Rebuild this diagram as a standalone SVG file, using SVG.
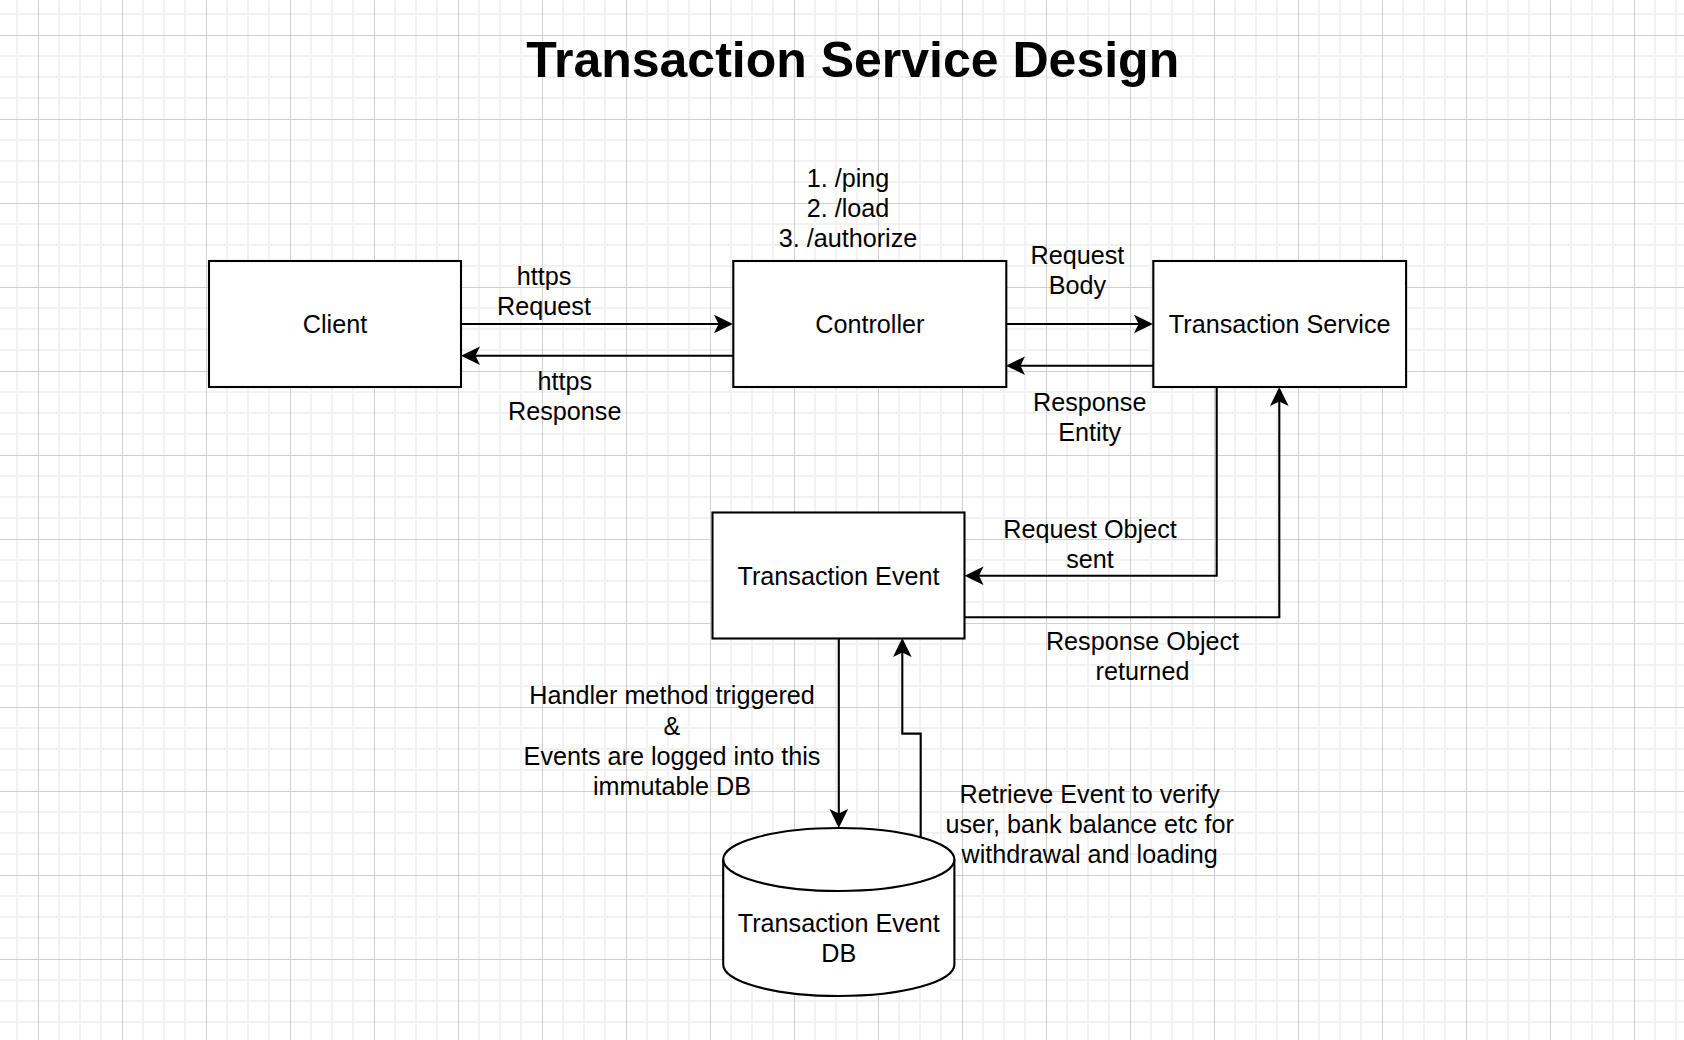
<svg xmlns="http://www.w3.org/2000/svg" width="1684" height="1040" viewBox="0 0 1684 1040">
<style>
.box{fill:#fff;stroke:#000;stroke-width:2.1}
.lbl{font-family:"Liberation Sans",Arial,Helvetica,sans-serif;font-size:25.2px;fill:#000;text-anchor:middle}
.edge{fill:none;stroke:#000;stroke-width:2.1}
.title{font-family:"Liberation Sans",Arial,Helvetica,sans-serif;font-size:50px;font-weight:bold;fill:#000;text-anchor:middle}
</style>
<defs>
<pattern id="grid" patternUnits="userSpaceOnUse" x="38" y="35" width="84" height="84">
<rect x="20" y="0" width="2" height="84" fill="#f2f2f2"/>
<rect x="41" y="0" width="2" height="84" fill="#f2f2f2"/>
<rect x="62" y="0" width="2" height="84" fill="#f2f2f2"/>
<rect x="0" y="20" width="84" height="2" fill="#f2f2f2"/>
<rect x="0" y="41" width="84" height="2" fill="#f2f2f2"/>
<rect x="0" y="62" width="84" height="2" fill="#f2f2f2"/>
<rect x="0" y="0" width="1" height="84" fill="#d0d0d0"/>
<rect x="0" y="0" width="84" height="1" fill="#d0d0d0"/>
</pattern>
<marker id="arr" markerUnits="userSpaceOnUse" viewBox="0 0 19 19" markerWidth="19" markerHeight="19" refX="14" refY="9.5" orient="auto">
<path d="M0,0.2 L19,9.5 L0,18.8 L4.5,9.5 Z" fill="#000"/>
</marker>
</defs>
<rect width="1684" height="1040" fill="#fff"/>
<rect width="1684" height="1040" fill="url(#grid)"/>
<text class="title" x="852.7" y="76.5">Transaction Service Design</text>

<g id="edges">
<g id="e-client-controller">
<path class="edge" d="M461,324 L728,324" marker-end="url(#arr)"/>
<text class="lbl" x="544" y="285">https</text>
<text class="lbl" x="544" y="315">Request</text>
</g>
<g id="e-controller-client">
<path class="edge" d="M733,355.7 L466,355.7" marker-end="url(#arr)"/>
<text class="lbl" x="564.7" y="389.5">https</text>
<text class="lbl" x="564.7" y="419.5">Response</text>
</g>
<g id="e-controller-ts">
<path class="edge" d="M1006,324 L1148,324" marker-end="url(#arr)"/>
<text class="lbl" x="1077.4" y="264">Request</text>
<text class="lbl" x="1077.4" y="294">Body</text>
</g>
<g id="e-ts-controller">
<path class="edge" d="M1153,365.7 L1011,365.7" marker-end="url(#arr)"/>
<text class="lbl" x="1089.7" y="410.5">Response</text>
<text class="lbl" x="1089.7" y="440.5">Entity</text>
</g>
<g id="e-ts-te">
<path class="edge" d="M1216.7,387 L1216.7,575.7 L969.5,575.7" marker-end="url(#arr)"/>
<text class="lbl" x="1090" y="537.5">Request Object</text>
<text class="lbl" x="1090" y="567.5">sent</text>
</g>
<g id="e-te-ts">
<path class="edge" d="M964.5,617.3 L1279.3,617.3 L1279.3,392" marker-end="url(#arr)"/>
<text class="lbl" x="1142.5" y="650">Response Object</text>
<text class="lbl" x="1142.5" y="680">returned</text>
</g>
<g id="e-te-db">
<path class="edge" d="M838.8,638 L838.8,823" marker-end="url(#arr)"/>
<text class="lbl" x="672" y="704">Handler method triggered</text>
<text class="lbl" x="672" y="734.5">&amp;</text>
<text class="lbl" x="672" y="764.5">Events are logged into this</text>
<text class="lbl" x="672" y="795">immutable DB</text>
</g>
<g id="e-db-te">
<path class="edge" d="M920.7,837.3 L920.7,733.6 L902.3,733.6 L902.3,643" marker-end="url(#arr)"/>
<text class="lbl" x="1089.7" y="803.3">Retrieve Event to verify</text>
<text class="lbl" x="1089.7" y="833.3">user, bank balance etc for</text>
<text class="lbl" x="1089.7" y="862.7">withdrawal and loading</text>
</g>
</g>

<g id="n-client">
<rect class="box" x="209" y="261" width="252" height="126"/>
<text class="lbl" x="335" y="333">Client</text>
</g>
<g id="n-controller">
<rect class="box" x="733.3" y="261" width="273" height="126"/>
<text class="lbl" x="869.8" y="333">Controller</text>
<text class="lbl" x="848" y="186.7">1. /ping</text>
<text class="lbl" x="848" y="216.7">2. /load</text>
<text class="lbl" x="848" y="246.7">3. /authorize</text>
</g>
<g id="n-ts">
<rect class="box" x="1153.3" y="261" width="252.8" height="126"/>
<text class="lbl" x="1279.7" y="333">Transaction Service</text>
</g>
<g id="n-te">
<rect class="box" x="712.5" y="512.5" width="252" height="126"/>
<text class="lbl" x="838.5" y="584.5">Transaction Event</text>
</g>
<g id="n-db">
<path class="box" d="M723.2,859.5 A115.6,31.5 0 0 1 954.4,859.5 L954.4,964.5 A115.6,31.5 0 0 1 723.2,964.5 Z"/>
<path class="box" style="fill:none" d="M723.2,859.5 A115.6,31.5 0 0 0 954.4,859.5"/>
<text class="lbl" x="838.8" y="931.8">Transaction Event</text>
<text class="lbl" x="838.8" y="962">DB</text>
</g>
</svg>
